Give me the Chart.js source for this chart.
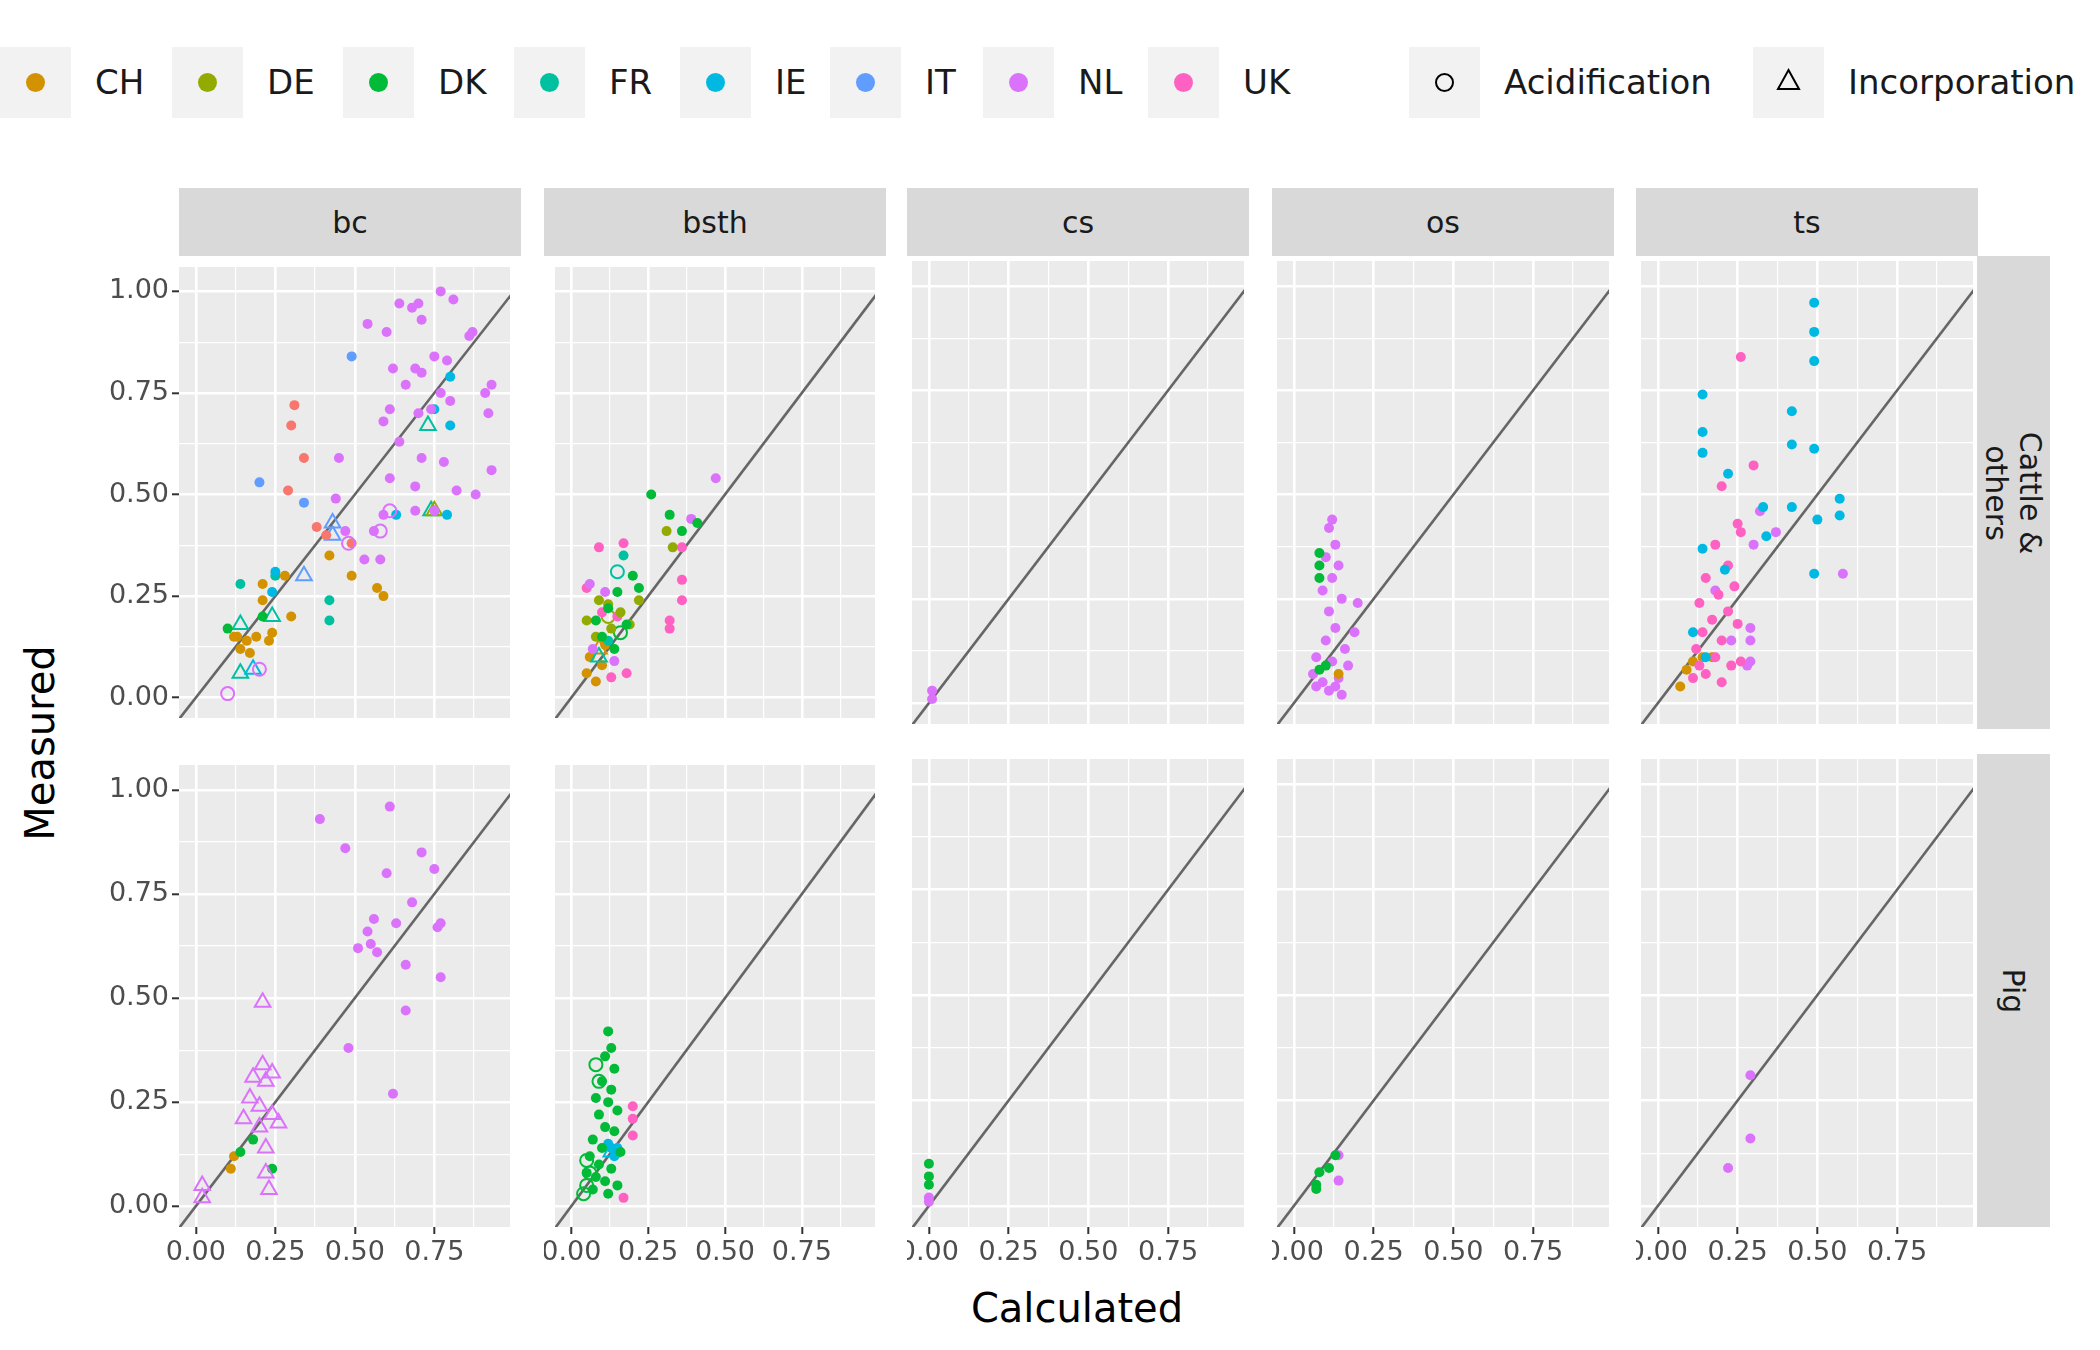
<!DOCTYPE html>
<html>
<head>
<meta charset="UTF-8">
<title>Measured vs Calculated</title>
<script src="https://cdn.jsdelivr.net/npm/chart.js"></script>
<style>
  body { margin:0; width:2100px; height:1350px; background:#fff; font-family:"DejaVu Sans", sans-serif; position:relative; overflow:hidden; }
  .abs { position:absolute; }
  .strip { position:absolute; background:#d9d9d9; color:#1a1a1a; font-size:30px; display:flex; align-items:center; justify-content:center; text-align:center; }
  .key { position:absolute; top:47px; width:71px; height:71px; background:#f2f2f2; }
  .lab { position:absolute; top:47px; height:71px; line-height:71px; font-size:34px; color:#1a1a1a; }
</style>
</head>
<body>
<script>
// ---- data: [calculated, measured, country, kind]  kind: f = filled, o = acidification, t = incorporation
const countries = ['CH','DE','DK','FR','IE','IT','NL','UK'];
const countryColors = { CH:'#D39200', DE:'#93AA00', DK:'#00BA38', FR:'#00C19F', IE:'#00B9E3', IT:'#619CFF', NL:'#DB72FB', UK:'#FF61C3', OT:'#F8766D' };
const methods = ['bc','bsth','cs','os','ts'];
const animals = ['Cattle &\nothers','Pig'];
const tickValues = [0, 0.25, 0.5, 0.75, 1];

const bcCattle = [
  [0.54,0.92,'NL','f'],[0.64,0.97,'NL','f'],[0.68,0.96,'NL','f'],[0.70,0.97,'NL','f'],[0.77,1.0,'NL','f'],[0.81,0.98,'NL','f'],
  [0.71,0.93,'NL','f'],[0.60,0.90,'NL','f'],[0.62,0.81,'NL','f'],[0.69,0.81,'NL','f'],[0.71,0.80,'NL','f'],[0.75,0.84,'NL','f'],
  [0.79,0.83,'NL','f'],[0.86,0.89,'NL','f'],[0.87,0.90,'NL','f'],[0.93,0.77,'NL','f'],[0.91,0.75,'NL','f'],[0.92,0.70,'NL','f'],
  [0.80,0.73,'NL','f'],[0.77,0.75,'NL','f'],[0.66,0.77,'NL','f'],[0.61,0.71,'NL','f'],[0.59,0.68,'NL','f'],[0.64,0.63,'NL','f'],
  [0.70,0.70,'NL','f'],[0.74,0.71,'NL','f'],[0.78,0.58,'NL','f'],[0.82,0.51,'NL','f'],[0.88,0.50,'NL','f'],[0.93,0.56,'NL','f'],
  [0.69,0.52,'NL','f'],[0.69,0.46,'NL','f'],[0.75,0.46,'NL','f'],[0.45,0.59,'NL','f'],[0.44,0.49,'NL','f'],[0.59,0.45,'NL','f'],
  [0.56,0.41,'NL','f'],[0.47,0.41,'NL','f'],[0.53,0.34,'NL','f'],[0.58,0.34,'NL','f'],[0.61,0.54,'NL','f'],[0.71,0.59,'NL','f'],
  [0.10,0.01,'NL','o'],[0.20,0.07,'NL','o'],[0.61,0.46,'NL','o'],[0.58,0.41,'NL','o'],[0.48,0.38,'NL','o'],
  [0.31,0.72,'OT','f'],[0.30,0.67,'OT','f'],[0.34,0.59,'OT','f'],[0.29,0.51,'OT','f'],[0.38,0.42,'OT','f'],[0.41,0.40,'OT','f'],[0.49,0.38,'OT','f'],
  [0.49,0.84,'IT','f'],[0.20,0.53,'IT','f'],[0.34,0.48,'IT','f'],[0.43,0.43,'IT','t'],[0.43,0.40,'IT','t'],[0.34,0.30,'IT','t'],
  [0.80,0.79,'IE','f'],[0.80,0.67,'IE','f'],[0.63,0.45,'IE','f'],[0.79,0.45,'IE','f'],[0.75,0.71,'IE','f'],[0.25,0.31,'IE','f'],[0.24,0.26,'IE','f'],[0.18,0.07,'IE','t'],
  [0.42,0.35,'CH','f'],[0.49,0.30,'CH','f'],[0.57,0.27,'CH','f'],[0.59,0.25,'CH','f'],[0.28,0.30,'CH','f'],[0.21,0.28,'CH','f'],
  [0.21,0.24,'CH','f'],[0.30,0.20,'CH','f'],[0.13,0.15,'CH','f'],[0.16,0.14,'CH','f'],[0.19,0.15,'CH','f'],[0.14,0.12,'CH','f'],
  [0.23,0.14,'CH','f'],[0.24,0.16,'CH','f'],[0.12,0.15,'CH','f'],[0.17,0.11,'CH','f'],
  [0.75,0.46,'DE','t'],[0.10,0.17,'DK','f'],[0.21,0.20,'DK','f'],
  [0.14,0.28,'FR','f'],[0.42,0.24,'FR','f'],[0.42,0.19,'FR','f'],[0.25,0.30,'FR','f'],
  [0.14,0.18,'FR','t'],[0.14,0.06,'FR','t'],[0.73,0.67,'FR','t'],[0.74,0.46,'FR','t'],[0.24,0.20,'FR','t']
];
const bsthCattle = [
  [0.26,0.50,'DK','f'],[0.32,0.45,'DK','f'],[0.36,0.41,'DK','f'],[0.41,0.43,'DK','f'],[0.22,0.27,'DK','f'],[0.15,0.26,'DK','f'],
  [0.12,0.22,'DK','f'],[0.18,0.18,'DK','f'],[0.10,0.15,'DK','f'],[0.14,0.12,'DK','f'],[0.20,0.30,'DK','f'],[0.08,0.19,'DK','f'],
  [0.31,0.41,'DE','f'],[0.33,0.37,'DE','f'],[0.05,0.19,'DE','f'],[0.09,0.24,'DE','f'],[0.12,0.23,'DE','f'],[0.16,0.21,'DE','f'],
  [0.19,0.18,'DE','f'],[0.08,0.15,'DE','f'],[0.13,0.17,'DE','f'],[0.22,0.24,'DE','f'],
  [0.47,0.54,'NL','f'],[0.39,0.44,'NL','f'],[0.06,0.28,'NL','f'],[0.11,0.26,'NL','f'],[0.14,0.09,'NL','f'],[0.07,0.12,'NL','f'],
  [0.36,0.37,'UK','f'],[0.36,0.29,'UK','f'],[0.36,0.24,'UK','f'],[0.32,0.19,'UK','f'],[0.32,0.17,'UK','f'],[0.17,0.38,'UK','f'],
  [0.09,0.37,'UK','f'],[0.05,0.27,'UK','f'],[0.10,0.21,'UK','f'],[0.15,0.20,'UK','f'],[0.18,0.06,'UK','f'],[0.13,0.05,'UK','f'],
  [0.17,0.35,'FR','f'],[0.12,0.14,'FR','f'],[0.15,0.31,'FR','o'],[0.09,0.10,'FR','t'],
  [0.05,0.06,'CH','f'],[0.08,0.04,'CH','f'],[0.10,0.08,'CH','f'],[0.06,0.10,'CH','f'],[0.11,0.13,'CH','f'],[0.09,0.12,'CH','t'],
  [0.16,0.16,'DK','o'],[0.12,0.20,'DE','o']
];
const csCattle = [[0.01,0.03,'NL','f'],[0.01,0.01,'NL','f']];
const osCattle = [
  [0.08,0.36,'DK','f'],[0.08,0.33,'DK','f'],[0.08,0.30,'DK','f'],[0.08,0.08,'DK','f'],[0.10,0.09,'DK','f'],[0.14,0.07,'CH','f'],
  [0.12,0.44,'NL','f'],[0.11,0.42,'NL','f'],[0.13,0.38,'NL','f'],[0.10,0.35,'NL','f'],[0.14,0.33,'NL','f'],[0.12,0.30,'NL','f'],
  [0.09,0.27,'NL','f'],[0.15,0.25,'NL','f'],[0.20,0.24,'NL','f'],[0.11,0.22,'NL','f'],[0.19,0.17,'NL','f'],[0.13,0.18,'NL','f'],
  [0.10,0.15,'NL','f'],[0.16,0.13,'NL','f'],[0.07,0.11,'NL','f'],[0.12,0.10,'NL','f'],[0.17,0.09,'NL','f'],[0.06,0.07,'NL','f'],
  [0.09,0.05,'NL','f'],[0.13,0.04,'NL','f'],[0.15,0.02,'NL','f'],[0.11,0.03,'NL','f'],[0.07,0.04,'NL','f'],[0.14,0.06,'NL','f']
];
const tsCattle = [
  [0.49,0.96,'IE','f'],[0.49,0.89,'IE','f'],[0.49,0.82,'IE','f'],[0.14,0.74,'IE','f'],[0.14,0.65,'IE','f'],[0.14,0.60,'IE','f'],
  [0.42,0.70,'IE','f'],[0.42,0.62,'IE','f'],[0.49,0.61,'IE','f'],[0.22,0.55,'IE','f'],[0.33,0.47,'IE','f'],[0.42,0.47,'IE','f'],
  [0.50,0.44,'IE','f'],[0.57,0.49,'IE','f'],[0.57,0.45,'IE','f'],[0.49,0.31,'IE','f'],[0.34,0.40,'IE','f'],[0.14,0.37,'IE','f'],
  [0.21,0.32,'IE','f'],[0.11,0.17,'IE','f'],[0.15,0.11,'IE','f'],
  [0.26,0.83,'UK','f'],[0.30,0.57,'UK','f'],[0.20,0.52,'UK','f'],[0.25,0.43,'UK','f'],[0.26,0.41,'UK','f'],[0.18,0.38,'UK','f'],
  [0.22,0.33,'UK','f'],[0.15,0.30,'UK','f'],[0.24,0.28,'UK','f'],[0.19,0.26,'UK','f'],[0.13,0.24,'UK','f'],[0.22,0.22,'UK','f'],
  [0.17,0.20,'UK','f'],[0.25,0.19,'UK','f'],[0.14,0.17,'UK','f'],[0.20,0.15,'UK','f'],[0.12,0.13,'UK','f'],[0.18,0.11,'UK','f'],
  [0.23,0.09,'UK','f'],[0.15,0.07,'UK','f'],[0.20,0.05,'UK','f'],[0.26,0.10,'UK','f'],[0.13,0.09,'UK','f'],[0.11,0.06,'UK','f'],
  [0.58,0.31,'NL','f'],[0.32,0.46,'NL','f'],[0.30,0.38,'NL','f'],[0.37,0.41,'NL','f'],[0.29,0.18,'NL','f'],[0.29,0.15,'NL','f'],
  [0.29,0.10,'NL','f'],[0.23,0.15,'NL','f'],[0.18,0.27,'NL','f'],[0.28,0.09,'NL','f'],
  [0.07,0.04,'CH','f'],[0.09,0.08,'CH','f'],[0.11,0.10,'CH','f'],[0.14,0.11,'CH','f'],[0.17,0.11,'CH','f']
];
const bcPig = [
  [0.39,0.93,'NL','f'],[0.47,0.86,'NL','f'],[0.61,0.96,'NL','f'],[0.60,0.80,'NL','f'],[0.71,0.85,'NL','f'],[0.75,0.81,'NL','f'],
  [0.68,0.73,'NL','f'],[0.56,0.69,'NL','f'],[0.63,0.68,'NL','f'],[0.77,0.68,'NL','f'],[0.76,0.67,'NL','f'],[0.54,0.66,'NL','f'],
  [0.55,0.63,'NL','f'],[0.51,0.62,'NL','f'],[0.57,0.61,'NL','f'],[0.66,0.58,'NL','f'],[0.77,0.55,'NL','f'],[0.66,0.47,'NL','f'],
  [0.48,0.38,'NL','f'],[0.62,0.27,'NL','f'],
  [0.21,0.49,'NL','t'],[0.21,0.34,'NL','t'],[0.24,0.32,'NL','t'],[0.18,0.31,'NL','t'],[0.22,0.30,'NL','t'],[0.17,0.26,'NL','t'],
  [0.20,0.24,'NL','t'],[0.24,0.22,'NL','t'],[0.15,0.21,'NL','t'],[0.26,0.20,'NL','t'],[0.20,0.19,'NL','t'],[0.22,0.14,'NL','t'],
  [0.22,0.08,'NL','t'],[0.23,0.04,'NL','t'],[0.02,0.05,'NL','t'],[0.02,0.02,'NL','t'],
  [0.18,0.16,'DK','f'],[0.14,0.13,'DK','f'],[0.24,0.09,'DK','f'],[0.11,0.09,'CH','f'],[0.12,0.12,'CH','f']
];
const bsthPig = [
  [0.12,0.42,'DK','f'],[0.13,0.38,'DK','f'],[0.11,0.36,'DK','f'],[0.14,0.33,'DK','f'],[0.10,0.30,'DK','f'],[0.13,0.28,'DK','f'],
  [0.08,0.26,'DK','f'],[0.12,0.25,'DK','f'],[0.15,0.23,'DK','f'],[0.09,0.22,'DK','f'],[0.11,0.19,'DK','f'],[0.14,0.18,'DK','f'],
  [0.07,0.16,'DK','f'],[0.10,0.14,'DK','f'],[0.16,0.13,'DK','f'],[0.06,0.12,'DK','f'],[0.09,0.10,'DK','f'],[0.13,0.09,'DK','f'],
  [0.05,0.08,'DK','f'],[0.08,0.07,'DK','f'],[0.11,0.06,'DK','f'],[0.15,0.05,'DK','f'],[0.07,0.04,'DK','f'],[0.12,0.03,'DK','f'],
  [0.08,0.34,'DK','o'],[0.09,0.30,'DK','o'],[0.05,0.11,'DK','o'],[0.05,0.05,'DK','o'],[0.06,0.08,'DK','o'],[0.04,0.03,'DK','o'],
  [0.13,0.14,'IE','f'],[0.14,0.12,'IE','f'],[0.12,0.15,'IE','f'],[0.15,0.14,'IE','f'],[0.13,0.13,'IE','t'],
  [0.20,0.24,'UK','f'],[0.20,0.21,'UK','f'],[0.20,0.17,'UK','f'],[0.17,0.02,'UK','f']
];
const csPig = [[0.0,0.10,'DK','f'],[0.0,0.07,'DK','f'],[0.0,0.05,'DK','f'],[0.0,0.02,'NL','f'],[0.0,0.01,'NL','f']];
const osPig = [[0.07,0.05,'DK','f'],[0.08,0.08,'DK','f'],[0.11,0.09,'DK','f'],[0.13,0.12,'DK','f'],[0.14,0.12,'NL','f'],[0.14,0.06,'NL','f'],[0.07,0.04,'DK','f']];
const tsPig = [[0.29,0.31,'NL','f'],[0.29,0.16,'NL','f'],[0.22,0.09,'NL','f']];

const panelData = [
  [bcCattle, bsthCattle, csCattle, osCattle, tsCattle],
  [bcPig, bsthPig, csPig, osPig, tsPig]
];

// ---- layout
const colLeft = [179, 544, 907, 1272, 1636];
const panelW = 342;
const rowTop = [256, 754];
const panelH = 473;
const yAxisW = 120;
const xAxisH = 48;

function el(tag, cls, style, text) {
  const d = document.createElement(tag);
  if (cls) d.className = cls;
  Object.assign(d.style, style);
  if (text !== undefined) d.textContent = text;
  document.body.appendChild(d);
  return d;
}

// legend
const legLeft = [0, 172, 343, 514, 680, 830, 983, 1148];
countries.forEach((c, i) => {
  const k = el('div', 'key', { left: legLeft[i] + 'px' });
  const dot = document.createElement('div');
  Object.assign(dot.style, { position:'absolute', left:'26px', top:'26px', width:'19px', height:'19px', borderRadius:'50%', background:countryColors[c] });
  k.appendChild(dot);
  el('div', 'lab', { left: (legLeft[i] + 95) + 'px' }, c);
});
{
  const k1 = el('div', 'key', { left: '1409px' });
  const o = document.createElement('div');
  Object.assign(o.style, { position:'absolute', left:'26px', top:'26px', width:'15px', height:'15px', borderRadius:'50%', border:'2px solid #000' });
  k1.appendChild(o);
  el('div', 'lab', { left: '1504px' }, 'Acidification');
  const k2 = el('div', 'key', { left: '1753px' });
  k2.innerHTML = '<svg width="71" height="71"><polygon points="35.5,23 46,42 25,42" fill="none" stroke="#000" stroke-width="2"/></svg>';
  el('div', 'lab', { left: '1848px' }, 'Incorporation');
}

// strips
methods.forEach((m, c) => {
  el('div', 'strip', { left: colLeft[c] + 'px', top: '188px', width: panelW + 'px', height: '68px' }, m);
});
animals.forEach((a, r) => {
  const s = el('div', 'strip', { left: '1977px', top: rowTop[r] + 'px', width: '73px', height: panelH + 'px' });
  const t = document.createElement('div');
  Object.assign(t.style, { transform: 'rotate(90deg)', whiteSpace: 'pre', lineHeight: '34px', textAlign: 'center' });
  t.textContent = a;
  s.appendChild(t);
});

// axis titles
el('div', 'abs', { left: '677px', top: '1285px', width: '800px', textAlign: 'center', fontSize: '40px', color: '#000' }, 'Calculated');
el('div', 'abs', { left: '-160px', top: '720px', width: '400px', textAlign: 'center', fontSize: '40px', color: '#000', transform: 'rotate(-90deg)' }, 'Measured');

// panels
const panelBg = {
  id: 'panelBg',
  beforeDraw(chart) {
    const a = chart.chartArea, ctx = chart.ctx;
    ctx.save(); ctx.fillStyle = '#ebebeb';
    ctx.fillRect(a.left, a.top, a.right - a.left, a.bottom - a.top);
    ctx.restore();
  }
};

const gridSteps = [0, 0.125, 0.25, 0.375, 0.5, 0.625, 0.75, 0.875, 1];
const isMajor = v => tickValues.some(t => Math.abs(t - v) < 1e-6);

function buildDatasets(points) {
  const groups = {};
  points.forEach(p => {
    const key = p[2] + '|' + p[3];
    (groups[key] = groups[key] || []).push({ x: p[0], y: p[1] });
  });
  const ds = [{
    type: 'line', data: [{ x: -0.2, y: -0.2 }, { x: 1.2, y: 1.2 }],
    borderColor: '#666666', borderWidth: 2.6, pointRadius: 0, order: 10
  }];
  Object.keys(groups).forEach(key => {
    const [c, k] = key.split('|');
    const col = countryColors[c];
    ds.push({
      type: 'scatter', data: groups[key],
      pointStyle: k === 't' ? 'triangle' : 'circle',
      pointRadius: k === 'f' ? 5 : (k === 't' ? 9 : 6.5),
      pointBackgroundColor: k === 'f' ? col : 'rgba(0,0,0,0)',
      pointBorderColor: col,
      pointBorderWidth: k === 'f' ? 0 : 2,
      order: 1
    });
  });
  return ds;
}

const noPad = s => { s.paddingLeft = 0; s.paddingRight = 0; s.paddingTop = 0; s.paddingBottom = 0; };

for (let r = 0; r < 2; r++) {
  for (let c = 0; c < 5; c++) {
    const left = c === 0 ? colLeft[0] - yAxisW : colLeft[c];
    const w = panelW + (c === 0 ? yAxisW : 0);
    const h = panelH + (r === 1 ? xAxisH : 0);
    const cv = document.createElement('canvas');
    cv.width = w; cv.height = h;
    Object.assign(cv.style, { position: 'absolute', left: left + 'px', top: rowTop[r] + 'px', width: w + 'px', height: h + 'px' });
    document.body.appendChild(cv);

    const showX = r === 1, showY = c === 0;
    const gridCfg = show => ({
      color: '#ffffff',
      lineWidth: ctx => isMajor(ctx.tick.value) ? 2.6 : 1.2,
      drawTicks: show,
      tickLength: 7,
      tickColor: ctx => isMajor(ctx.tick.value) ? '#333333' : 'rgba(0,0,0,0)',
      tickWidth: 2
    });
    const tickCfg = show => ({
      display: show,
      autoSkip: false,
      maxRotation: 0,
      padding: 3,
      color: '#4d4d4d',
      font: { family: 'DejaVu Sans', size: 27 },
      callback: v => isMajor(v) ? v.toFixed(2) : ''
    });

    new Chart(cv, {
      data: { datasets: buildDatasets(panelData[r][c]) },
      plugins: [panelBg],
      options: {
        responsive: false, animation: false, devicePixelRatio: 1,
        layout: { padding: 0 },
        plugins: { legend: { display: false }, tooltip: { enabled: false } },
        scales: {
          x: {
            type: 'linear', min: -0.053, max: 0.988,
            afterBuildTicks: s => { s.ticks = gridSteps.slice(0, 8).map(v => ({ value: v })); },
            afterFit: s => { s.height = showX ? xAxisH : 0; noPad(s); },
            border: { display: false },
            grid: gridCfg(showX), ticks: tickCfg(showX)
          },
          y: {
            type: 'linear', min: -0.05, max: 1.06,
            afterBuildTicks: s => { s.ticks = gridSteps.map(v => ({ value: v })); },
            afterFit: s => { s.width = showY ? yAxisW : 0; noPad(s); },
            border: { display: false },
            grid: gridCfg(showY), ticks: tickCfg(showY)
          }
        }
      }
    });
  }
}
</script>
</body>
</html>
